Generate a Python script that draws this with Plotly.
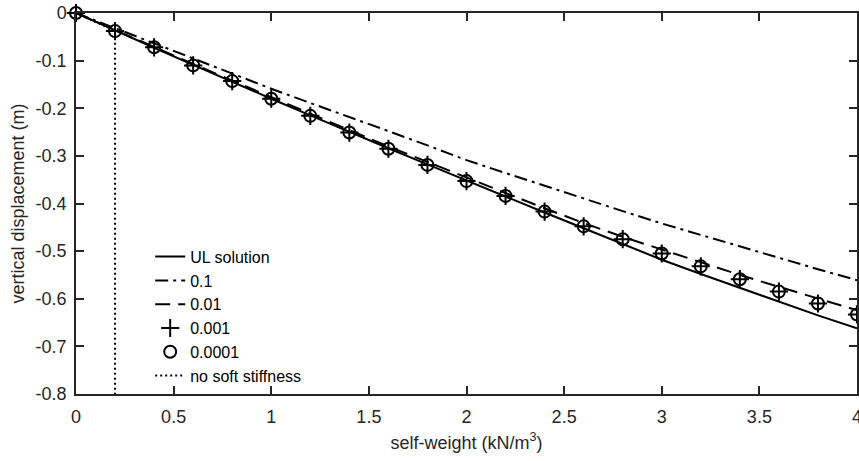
import plotly.graph_objects as go

# self-weight (kN/m^3)
x_vals = [0.0, 0.2, 0.4, 0.6, 0.8, 1.0, 1.2, 1.4, 1.6, 1.8, 2.0,
          2.2, 2.4, 2.6, 2.8, 3.0, 3.2, 3.4, 3.6, 3.8, 4.0]

# vertical displacement (m)
ul_solution = [0.0, -0.037, -0.073, -0.109, -0.145, -0.180, -0.215, -0.250, -0.284, -0.318, -0.352,
               -0.385, -0.419, -0.452, -0.485, -0.518, -0.548, -0.577, -0.606, -0.635, -0.662]
soft_0_1 = [0.0, -0.032, -0.064, -0.096, -0.128, -0.159, -0.189, -0.218, -0.248, -0.278, -0.309,
            -0.336, -0.363, -0.390, -0.416, -0.442, -0.466, -0.491, -0.515, -0.538, -0.561]
soft_0_01 = [0.0, -0.036, -0.071, -0.107, -0.142, -0.177, -0.212, -0.246, -0.280, -0.313, -0.346,
             -0.378, -0.410, -0.441, -0.470, -0.497, -0.523, -0.550, -0.575, -0.600, -0.624]
soft_0_001 = [0.0, -0.038, -0.072, -0.110, -0.143, -0.180, -0.216, -0.251, -0.285, -0.319, -0.353,
              -0.384, -0.417, -0.448, -0.475, -0.505, -0.532, -0.559, -0.585, -0.610, -0.633]
soft_0_0001 = [0.0, -0.038, -0.072, -0.110, -0.143, -0.180, -0.216, -0.251, -0.285, -0.319, -0.353,
               -0.384, -0.417, -0.448, -0.475, -0.505, -0.532, -0.559, -0.585, -0.610, -0.633]
no_soft_x = [0.0, 0.2, 0.2]
no_soft_y = [0.0, -0.037, -0.8]

x_ticks = [0, 0.5, 1, 1.5, 2, 2.5, 3, 3.5, 4]
x_tick_text = ["0", "0.5", "1", "1.5", "2", "2.5", "3", "3.5", "4"]
y_ticks = [0, -0.1, -0.2, -0.3, -0.4, -0.5, -0.6, -0.7, -0.8]
y_tick_text = ["0", "-0.1", "-0.2", "-0.3", "-0.4", "-0.5", "-0.6", "-0.7", "-0.8"]

FONT = "Liberation Sans, Arial, Helvetica, sans-serif"
AX = "#262626"

fig = go.Figure()
fig.add_trace(go.Scatter(x=x_vals, y=ul_solution, mode="lines", name="UL solution",
                         line=dict(color="black", width=2)))
fig.add_trace(go.Scatter(x=x_vals, y=soft_0_1, mode="lines", name="0.1",
                         line=dict(color="black", width=2, dash="13px,5px,3px,5px")))
fig.add_trace(go.Scatter(x=x_vals, y=soft_0_01, mode="lines", name="0.01",
                         line=dict(color="black", width=2, dash="15px,8px")))
fig.add_trace(go.Scatter(x=x_vals, y=soft_0_001, mode="markers", name="0.001", cliponaxis=False,
                         marker=dict(symbol="cross-thin-open", size=13, color="black",
                                     line=dict(color="black", width=2))))
fig.add_trace(go.Scatter(x=x_vals, y=soft_0_0001, mode="markers", name="0.0001", cliponaxis=False,
                         marker=dict(symbol="circle-open", size=12, color="black",
                                     line=dict(color="black", width=2))))
fig.add_trace(go.Scatter(x=no_soft_x, y=no_soft_y, mode="lines", name="no soft stiffness",
                         line=dict(color="black", width=2, dash="2px,3px")))

axis_common = dict(showline=True, linecolor=AX, linewidth=1.5, mirror="ticks",
                   ticks="inside", ticklen=8, tickwidth=1.5, tickcolor=AX,
                   showgrid=False, zeroline=False, ticklabeloverflow="allow",
                   tickfont=dict(family=FONT, size=18, color=AX))

fig.update_xaxes(range=[0, 4], tickvals=x_ticks, ticktext=x_tick_text, ticklabelstandoff=6,
                 title=dict(text="self-weight (kN/m<sup>3</sup>)", standoff=10,
                            font=dict(family=FONT, size=18, color=AX)),
                 **axis_common)
fig.update_yaxes(range=[-0.8, 0], tickvals=y_ticks, ticktext=y_tick_text, ticklabelstandoff=4,
                 title=dict(text="vertical displacement (m)", standoff=6,
                            font=dict(family=FONT, size=18, color=AX)),
                 **axis_common)

fig.update_layout(
    width=859, height=461,
    margin=dict(l=76, r=2, t=13, b=67, autoexpand=False),
    plot_bgcolor="white", paper_bgcolor="white",
    font=dict(family=FONT, size=16, color="black"),
    legend=dict(x=0.095, y=0.405, xanchor="left", yanchor="top",
                bgcolor="rgba(255,255,255,0)", borderwidth=0,
                font=dict(family=FONT, size=16, color="black"),
                tracegroupgap=0),
    showlegend=True,
)

fig.write_html("out.html")
